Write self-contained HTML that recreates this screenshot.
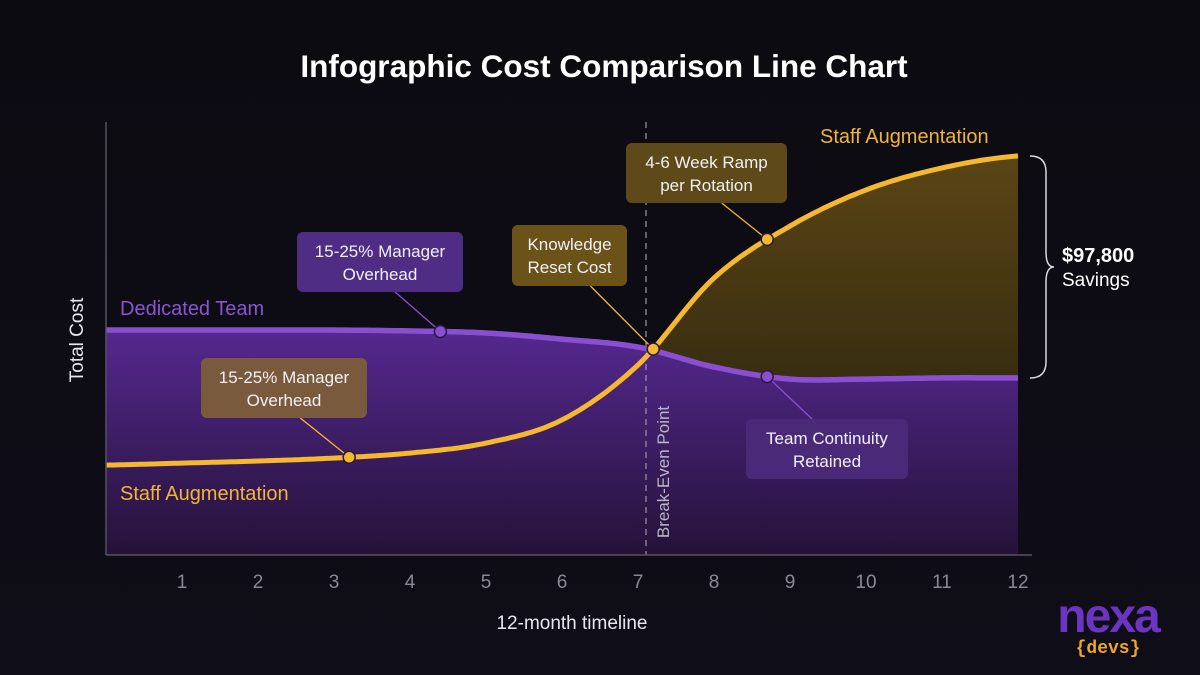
<!DOCTYPE html>
<html><head><meta charset="utf-8"><style>
html,body{margin:0;padding:0;background:#0c0b12;}
svg{display:block;font-family:"Liberation Sans",sans-serif;}
</style></head><body>
<svg id="chart" width="1200" height="675" viewBox="0 0 1200 675">
<defs>
<linearGradient id="bg" x1="0" y1="0" x2="0" y2="1"><stop offset="0" stop-color="#0c0b12"/><stop offset="1" stop-color="#0f0d17"/></linearGradient>
<linearGradient id="pf" x1="0" y1="0" x2="0" y2="1"><stop offset="0" stop-color="#55288f"/><stop offset="1" stop-color="#241238"/></linearGradient>
<linearGradient id="gf" x1="0" y1="0" x2="0" y2="1"><stop offset="0" stop-color="#5a4514"/><stop offset="1" stop-color="#2c2410"/></linearGradient>
<clipPath id="gclip"><rect id="gclipRect" x="0" y="0" width="1200" height="675"/></clipPath>
</defs>
<rect width="1200" height="675" fill="url(#bg)"/>
<text x="604" y="77" text-anchor="middle" fill="#fff" font-size="31.5" font-weight="bold">Infographic Cost Comparison Line Chart</text>
<g id="plot"></g>
<line x1="106" y1="122" x2="106" y2="555" stroke="#55535e" stroke-width="1.5"/>
<line x1="106" y1="555" x2="1032" y2="555" stroke="#55535e" stroke-width="1.5"/>
<g id="ticks"></g>
<text x="572" y="629" text-anchor="middle" fill="#e8e6ee" font-size="19">12-month timeline</text>
<text transform="translate(83,340) rotate(-90)" text-anchor="middle" fill="#e8e6ee" font-size="19">Total Cost</text>
<text transform="translate(669,472) rotate(-90)" text-anchor="middle" fill="#b8b6c0" font-size="17">Break-Even Point</text>
<text x="820" y="143" fill="#f2b33a" font-size="20">Staff Augmentation</text>
<text x="120" y="315" fill="#8a55cf" font-size="20">Dedicated Team</text>
<text x="120" y="500" fill="#f2b33a" font-size="20">Staff Augmentation</text>
<path d="M1030,156 Q1046,156 1046,172 L1046,252 Q1046,267 1054,267 Q1046,267 1046,282 L1046,362 Q1046,378 1030,378" fill="none" stroke="#d8d6de" stroke-width="1.5"/>
<text x="1062" y="262" fill="#fff" font-size="20" font-weight="bold">$97,800</text>
<text x="1062" y="286" fill="#fff" font-size="19">Savings</text>
<g>
<text x="1108" y="632" text-anchor="middle" fill="#6b35c2" font-size="48" font-weight="bold" letter-spacing="-2">nexa</text>
<text x="1108" y="653" text-anchor="middle" fill="#f0a52a" font-size="18" font-family="Liberation Mono, monospace" font-weight="bold">{devs}</text>
</g>
</svg>
<script>
const months=[0,1,2,3,4,5,6,7,8,9,10,11,12];
const tickLabels=["1","2","3","4","5","6","7","8","9","10","11","12"];
const dedicatedCost=[99.1,99.1,99.1,99.1,98.7,97.8,95.1,91.6,82.8,77.5,77.5,78.0,78.0];
const staffCost=[39.6,40.5,41.4,42.7,44.9,49.3,59.5,83.7,122.0,144.9,160.8,170.5,175.8];
const annotations=[
 {text:["15-25% Manager","Overhead"],series:"d",m:4.4,bx:297,by:232,bw:166,bh:60,fill:"#4f2d85"},
 {text:["15-25% Manager","Overhead"],series:"s",m:3.2,bx:201,by:358,bw:166,bh:60,fill:"#7a5a3c"},
 {text:["Knowledge","Reset Cost"],series:"s",m:7.2,bx:512,by:225,bw:115,bh:61,fill:"#6b5218"},
 {text:["4-6 Week Ramp","per Rotation"],series:"s",m:8.7,bx:626,by:143,bw:161,bh:60,fill:"#5e4a18"},
 {text:["Team Continuity","Retained"],series:"d",m:8.7,bx:746,by:419,bw:162,bh:60,fill:"#4a2a78"}
];
const NS="http://www.w3.org/2000/svg";
const xS=m=>106+m*76;
const yS=v=>555-v/0.4405;
function cr(arr,t){
 const n=arr.length-1;t=Math.max(0,Math.min(n,t));
 let i=Math.min(Math.floor(t),n-1),u=t-i;
 const p0=arr[Math.max(0,i-1)],p1=arr[i],p2=arr[i+1],p3=arr[Math.min(n,i+2)];
 return 0.5*((2*p1)+(-p0+p2)*u+(2*p0-5*p1+4*p2-p3)*u*u+(-p0+3*p1-3*p2+p3)*u*u*u);
}
function pts(arr){const r=[];for(let t=0;t<=12.0001;t+=0.05)r.push([xS(t),yS(cr(arr,t))]);return r;}
const dp=pts(dedicatedCost),sp=pts(staffCost);
const line=p=>"M"+p.map(q=>q[0].toFixed(1)+","+q[1].toFixed(1)).join("L");
const plot=document.getElementById("plot");
function mk(tag,attrs,parent){const e=document.createElementNS(NS,tag);for(const k in attrs)e.setAttribute(k,attrs[k]);(parent||plot).appendChild(e);return e;}
let cx=xS(12);for(let i=0;i<dp.length;i++){if(sp[i][1]<=dp[i][1]){cx=dp[i][0];break;}}
document.getElementById("gclipRect").setAttribute("x",cx);
let e=mk("path",{d:line(dp)+"L"+xS(12)+",555L"+xS(0)+",555Z",fill:"url(#pf)"});


e=mk("path",{d:line(sp)+"L"+[...dp].reverse().map(q=>q[0].toFixed(1)+","+q[1].toFixed(1)).join("L")+"Z",fill:"url(#gf)","clip-path":"url(#gclip)"});


e=mk("line",{x1:646,y1:122,x2:646,y2:555,stroke:"#9a98a4","stroke-width":1.2,"stroke-dasharray":"6,5"});


e=mk("path",{d:line(dp),fill:"none",stroke:"#8a4fd0","stroke-width":5.5});


e=mk("path",{d:line(sp),fill:"none",stroke:"#f5b82e","stroke-width":5});


annotations.forEach((a,i)=>{
 const arr=a.series==="d"?dedicatedCost:staffCost;
 const px=xS(a.m),py=yS(cr(arr,a.m));
 const col=a.series==="d"?"#8a4fd0":"#f5b82e";
 const by=a.by+a.bh, bx=a.bx+a.bw/2 + (px-(a.bx+a.bw/2))*0.25;
 const above=py>a.by;
 let c=mk("line",{x1:bx,y1:above?by:a.by,x2:px,y2:py,stroke:col,"stroke-width":1.3});
 
 
 const r=mk("rect",{x:a.bx,y:a.by,width:a.bw,height:a.bh,rx:6,fill:a.fill});
 
 
 a.text.forEach((t,j)=>{const tx=mk("text",{x:a.bx+a.bw/2,y:a.by+25+j*23,"text-anchor":"middle",fill:"#f2f0f6","font-size":17});tx.textContent=t;
 
 });
 const d=mk("circle",{cx:px,cy:py,r:6,fill:col,stroke:"#2a1a40","stroke-width":1.5});
 
 
});
const tg=document.getElementById("ticks");
tickLabels.forEach((l,i)=>{const t=mk("text",{x:xS(months[i+1]),y:588,"text-anchor":"middle",fill:"#8a8894","font-size":19},tg);t.textContent=l;
 
 });
</script>
</body></html>
